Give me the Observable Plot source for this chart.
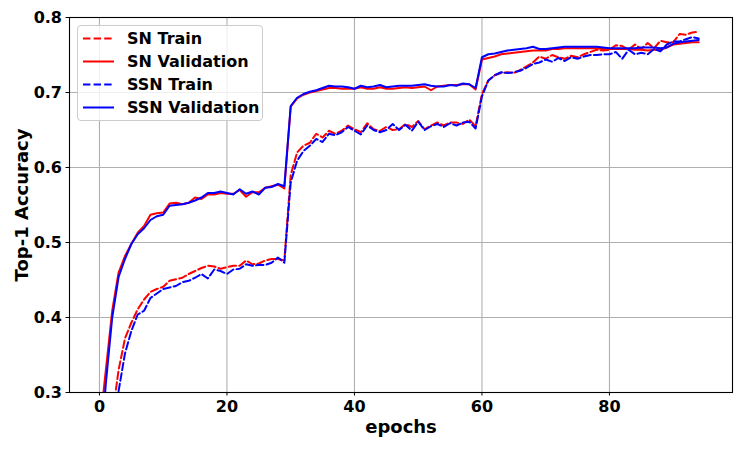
<!DOCTYPE html>
<html>
<head>
<meta charset="utf-8">
<script src="https://cdn.jsdelivr.net/npm/d3@7"></script>
<script src="https://cdn.jsdelivr.net/npm/@observablehq/plot@0.6"></script>
<style>
  html, body { margin: 0; padding: 0; background: #fff; }
  #wrap { position: relative; width: 747px; height: 449px; font-family: "DejaVu Sans", sans-serif; }
  #legend { position: absolute; left: 77px; top: 25px; width: 186px; height: 96px;
            border: 1px solid #cccccc; border-radius: 4px; background: rgba(255,255,255,0.8); box-sizing: border-box; }
</style>
</head>
<body>
<div id="wrap">
  <div id="chart"></div>
  <div id="legend"></div>
</div>
<script>
const epochs = [0,1,2,3,4,5,6,7,8,9,10,11,12,13,14,15,16,17,18,19,20,21,22,23,24,25,26,27,28,29,
  30,31,32,33,34,35,36,37,38,39,40,41,42,43,44,45,46,47,48,49,50,51,52,53,54,55,56,57,58,59,
  60,61,62,63,64,65,66,67,68,69,70,71,72,73,74,75,76,77,78,79,80,81,82,83,84,85,86,87,88,89,
  90,91,92,93,94];

const snTrain = [0.15,0.22,0.268,0.330,0.372,0.393,0.411,0.424,0.434,0.438,
  0.441,0.449,0.451,0.453,0.458,0.462,0.466,0.469,0.468,0.465,
  0.467,0.469,0.469,0.476,0.471,0.472,0.476,0.478,0.478,0.476,
  0.590,0.620,0.629,0.633,0.645,0.640,0.649,0.645,0.649,0.656,
  0.651,0.647,0.659,0.651,0.649,0.654,0.650,0.651,0.658,0.654,
  0.662,0.651,0.656,0.660,0.656,0.660,0.660,0.658,0.664,0.655,
  0.698,0.716,0.723,0.726,0.727,0.726,0.730,0.735,0.740,0.748,
  0.745,0.750,0.747,0.745,0.749,0.747,0.751,0.754,0.757,0.756,
  0.757,0.763,0.762,0.757,0.764,0.758,0.766,0.759,0.769,0.767,
  0.767,0.778,0.777,0.780,0.781];

const snVal = [0.25,0.33,0.409,0.460,0.482,0.498,0.513,0.522,0.537,0.539,
  0.540,0.552,0.553,0.551,0.553,0.560,0.558,0.564,0.564,0.566,
  0.565,0.565,0.570,0.561,0.567,0.567,0.573,0.575,0.577,0.572,
  0.681,0.692,0.697,0.700,0.702,0.704,0.706,0.706,0.705,0.705,
  0.705,0.707,0.705,0.705,0.707,0.705,0.705,0.706,0.707,0.706,
  0.707,0.708,0.703,0.708,0.709,0.710,0.710,0.711,0.711,0.704,
  0.744,0.746,0.748,0.751,0.752,0.753,0.754,0.755,0.756,0.756,
  0.756,0.758,0.758,0.759,0.759,0.759,0.759,0.759,0.759,0.758,
  0.758,0.758,0.758,0.758,0.757,0.757,0.756,0.757,0.757,0.760,
  0.764,0.765,0.766,0.767,0.767];

const ssnTrain = [0.12,0.20,0.255,0.302,0.352,0.382,0.404,0.409,0.426,0.432,
  0.438,0.440,0.442,0.447,0.449,0.453,0.458,0.452,0.464,0.462,
  0.458,0.464,0.465,0.471,0.469,0.470,0.470,0.473,0.480,0.473,
  0.580,0.609,0.622,0.629,0.638,0.634,0.645,0.643,0.647,0.654,
  0.649,0.644,0.656,0.650,0.647,0.650,0.658,0.650,0.657,0.649,
  0.661,0.650,0.655,0.658,0.654,0.659,0.656,0.660,0.661,0.652,
  0.695,0.716,0.723,0.727,0.726,0.727,0.729,0.733,0.738,0.740,
  0.744,0.741,0.746,0.742,0.747,0.745,0.748,0.750,0.750,0.751,
  0.751,0.754,0.745,0.757,0.751,0.753,0.751,0.758,0.755,0.764,
  0.768,0.768,0.771,0.774,0.772];

const ssnVal = [0.20,0.312,0.400,0.454,0.478,0.498,0.511,0.519,0.530,0.535,
  0.537,0.549,0.550,0.551,0.553,0.556,0.560,0.566,0.566,0.568,
  0.566,0.564,0.571,0.565,0.568,0.564,0.573,0.574,0.578,0.575,
  0.682,0.693,0.698,0.701,0.703,0.706,0.709,0.708,0.708,0.707,
  0.705,0.709,0.707,0.708,0.710,0.707,0.708,0.709,0.709,0.709,
  0.710,0.711,0.709,0.708,0.708,0.710,0.709,0.712,0.711,0.706,
  0.747,0.751,0.752,0.754,0.756,0.757,0.758,0.759,0.761,0.758,
  0.758,0.759,0.760,0.761,0.761,0.761,0.761,0.761,0.761,0.760,
  0.759,0.759,0.759,0.759,0.759,0.760,0.760,0.760,0.759,0.760,
  0.765,0.767,0.768,0.769,0.770];

const seriesNames = ["SN Train", "SN Validation", "SSN Train", "SSN Validation"];
const seriesValues = [snTrain, snVal, ssnTrain, ssnVal];
const seriesColors = ["#ff0000", "#ff0000", "#0000ff", "#0000ff"];
const seriesDashed = [true, false, true, false];

const xTicks = [0, 20, 40, 60, 80];
const yTicks = [0.3, 0.4, 0.5, 0.6, 0.7, 0.8];
const xLabel = "epochs";
const yLabel = "Top-1 Accuracy";

const dashPattern = "7.4,3.2";
const lineWidth = 2;

const lineMarks = seriesNames.map((name, k) => {
  const rows = epochs.map((e, i) => ({epoch: e, acc: seriesValues[k][i], series: name}));
  return Plot.line(rows, {
    x: "epoch", y: "acc", stroke: seriesColors[k], strokeWidth: lineWidth,
    strokeDasharray: seriesDashed[k] ? dashPattern : null, clip: true
  });
});

const chart = Plot.plot({
  width: 747, height: 449,
  marginLeft: 69, marginRight: 15, marginTop: 17, marginBottom: 57,
  style: {fontFamily: "DejaVu Sans", fontSize: "16px", fontWeight: "bold", color: "black", background: "white", overflow: "visible"},
  x: {domain: [-4.7, 99.3]},
  y: {domain: [0.3, 0.8]},
  marks: [
    Plot.gridX(xTicks, {stroke: "#b0b0b0", strokeOpacity: 1, strokeWidth: 1.1}),
    Plot.gridY(yTicks, {stroke: "#b0b0b0", strokeOpacity: 1, strokeWidth: 1.1}),
    ...lineMarks,
    Plot.frame({stroke: "#000", strokeWidth: 1.1}),
    Plot.axisX(xTicks, {tickSize: 3.5, tickPadding: 5, label: null, tickFormat: d => String(d), fontSize: 16, fontWeight: "bold"}),
    Plot.axisY(yTicks, {tickSize: 3.5, tickPadding: 4, label: null, tickFormat: d3.format(".1f"), fontSize: 16, fontWeight: "bold"}),
    Plot.text([xLabel], {text: d => d, frameAnchor: "bottom", dy: 35, lineAnchor: "middle", textAnchor: "middle", fontSize: 18, fontWeight: "bold", fill: "black"}),
    Plot.text([yLabel], {text: d => d, frameAnchor: "left", dx: -47, rotate: -90, lineAnchor: "middle", textAnchor: "middle", fontSize: 18, fontWeight: "bold", fill: "black"})
  ]
});
document.getElementById("chart").appendChild(chart);

// Legend (inside the axes, top-left)
const leg = d3.select("#legend").append("svg").attr("width", 186).attr("height", 96)
  .style("display", "block").style("overflow", "visible");
const rowGap = 23;
const g = leg.selectAll("g").data(seriesNames).join("g")
  .attr("transform", (d, i) => `translate(0, ${12.5 + i * rowGap})`);
g.append("line").attr("x1", 5).attr("x2", 36).attr("y1", 0).attr("y2", 0)
  .attr("stroke", (d, i) => seriesColors[i]).attr("stroke-width", lineWidth)
  .attr("stroke-dasharray", (d, i) => seriesDashed[i] ? dashPattern : null);
g.append("text").attr("x", 49).attr("y", 0).attr("dy", "0.35em")
  .attr("font-family", "DejaVu Sans").attr("font-weight", "bold").attr("font-size", 16)
  .attr("fill", "black").text(d => d);
</script>
</body>
</html>
